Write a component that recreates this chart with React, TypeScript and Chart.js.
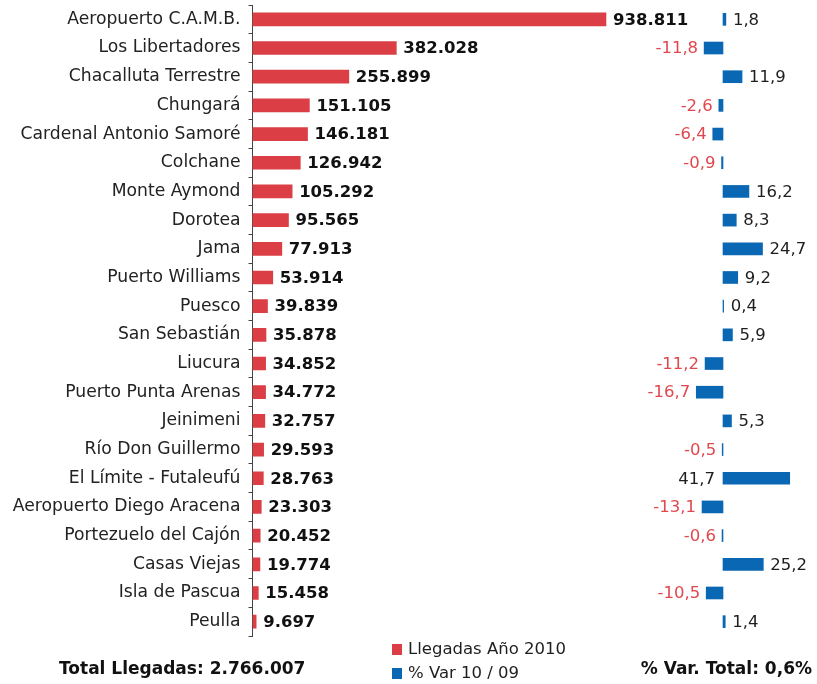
import React, { useEffect, useRef } from "react";
import { Chart, registerables } from "chart.js";

Chart.register(...registerables);

const categories = [
  "Aeropuerto C.A.M.B.",
  "Los Libertadores",
  "Chacalluta Terrestre",
  "Chungará",
  "Cardenal Antonio Samoré",
  "Colchane",
  "Monte Aymond",
  "Dorotea",
  "Jama",
  "Puerto Williams",
  "Puesco",
  "San Sebastián",
  "Liucura",
  "Puerto Punta Arenas",
  "Jeinimeni",
  "Río Don Guillermo",
  "El Límite - Futaleufú",
  "Aeropuerto Diego Aracena",
  "Portezuelo del Cajón",
  "Casas Viejas",
  "Isla de Pascua",
  "Peulla",
];

const arrivals2010 = [
  938811, 382028, 255899, 151105, 146181, 126942, 105292, 95565, 77913, 53914,
  39839, 35878, 34852, 34772, 32757, 29593, 28763, 23303, 20452, 19774, 15458,
  9697,
];

const varPct = [
  1.8, -11.8, 11.9, -2.6, -6.4, -0.9, 16.2, 8.3, 24.7, 9.2, 0.4, 5.9, -11.2,
  -16.7, 5.3, -0.5, 41.7, -13.1, -0.6, 25.2, -10.5, 1.4,
];

const seriesNames = ["Llegadas Año 2010", "% Var 10 / 09"];
const totalArrivals = 2766007;
const totalVar = 0.6;

const W = 817;
const H = 684;
const FONT = "'DejaVu Sans', Verdana, sans-serif";
const RED = "#DB3F45";
const BLUE = "#0A67B3";
const RED_TEXT = "#E0484D";
const TEXT = "#1e1e1e";

const fmtInt = (v: number) =>
  String(Math.round(v)).replace(/\B(?=(\d{3})+(?!\d))/g, ".");
const fmtPct = (v: number) => v.toFixed(1).replace(".", ",");

const leftLabels = {
  id: "leftLabels",
  afterDatasetsDraw(chart: any) {
    const ctx = chart.ctx;
    const meta = chart.getDatasetMeta(0);
    ctx.save();
    ctx.font = `bold 16.5px ${FONT}`;
    ctx.fillStyle = "#111";
    ctx.textAlign = "left";
    ctx.textBaseline = "middle";
    meta.data.forEach((el: any, i: number) => {
      ctx.fillText(fmtInt(arrivals2010[i]), el.x + 7, el.y + 1);
    });
    ctx.restore();
  },
};

const footer = {
  id: "footer",
  afterDraw(chart: any) {
    const ctx = chart.ctx;
    ctx.save();
    ctx.textBaseline = "middle";
    // legend
    ctx.fillStyle = RED;
    ctx.fillRect(392, 644, 10, 11);
    ctx.fillStyle = BLUE;
    ctx.fillRect(392, 668, 10, 11);
    ctx.fillStyle = TEXT;
    ctx.font = `16.5px ${FONT}`;
    ctx.textAlign = "left";
    ctx.fillText(seriesNames[0], 408, 650);
    ctx.fillText(seriesNames[1], 408, 674);
    // totals
    ctx.fillStyle = "#111";
    ctx.font = `bold 17px ${FONT}`;
    ctx.fillText(`Total Llegadas: ${fmtInt(totalArrivals)}`, 59, 670);
    ctx.textAlign = "right";
    ctx.fillText(`% Var. Total: ${fmtPct(totalVar)}%`, 812, 670);
    ctx.restore();
  },
};

const rightLabels = {
  id: "rightLabels",
  afterDatasetsDraw(chart: any) {
    const ctx = chart.ctx;
    const meta = chart.getDatasetMeta(0);
    const right = chart.width;
    ctx.save();
    ctx.font = `16.5px ${FONT}`;
    ctx.textBaseline = "middle";
    meta.data.forEach((el: any, i: number) => {
      const v = varPct[i];
      const txt = fmtPct(v);
      const w = ctx.measureText(txt).width;
      if (v < 0) {
        ctx.fillStyle = RED_TEXT;
        ctx.textAlign = "right";
        ctx.fillText(txt, Math.min(el.x, el.base) - 6, el.y + 1);
      } else {
        ctx.fillStyle = TEXT;
        if (el.x + 7 + w > right - 2) {
          ctx.textAlign = "right";
          ctx.fillText(txt, el.base - 8, el.y + 1);
        } else {
          ctx.textAlign = "left";
          ctx.fillText(txt, el.x + 7, el.y + 1);
        }
      }
    });
    ctx.restore();
  },
};

export default function App() {
  const leftRef = useRef<HTMLCanvasElement>(null);
  const rightRef = useRef<HTMLCanvasElement>(null);

  useEffect(() => {
    const left = new Chart(leftRef.current as HTMLCanvasElement, {
      type: "bar",
      data: {
        labels: categories,
        datasets: [
          {
            label: seriesNames[0],
            data: arrivals2010,
            backgroundColor: RED,
            barThickness: 13,
          },
        ],
      },
      options: {
        indexAxis: "y",
        responsive: false,
        animation: false,
        devicePixelRatio: 1,
        layout: { padding: { top: 5, bottom: 48, left: 0, right: 188 } },
        plugins: { legend: { display: false }, tooltip: { enabled: false } },
        scales: {
          x: { display: false, min: 0, max: 1000000 },
          y: {
            afterFit: (s: any) => {
              s.width = 252.5;
              s.paddingTop = 0;
              s.paddingBottom = 0;
            },
            grid: {
              offset: true,
              drawOnChartArea: false,
              tickLength: 4,
              color: "#444",
            },
            border: { color: "#444" },
            ticks: {
              autoSkip: false,
              font: { family: FONT, size: 17.2 },
              color: "#222",
              padding: 8,
            },
          },
        },
      } as any,
      plugins: [leftLabels, footer],
    });

    const right = new Chart(rightRef.current as HTMLCanvasElement, {
      type: "bar",
      data: {
        labels: categories,
        datasets: [
          {
            label: seriesNames[1],
            data: varPct,
            backgroundColor: BLUE,
            barThickness: 12,
          },
        ],
      },
      options: {
        indexAxis: "y",
        responsive: false,
        animation: false,
        devicePixelRatio: 1,
        layout: { padding: { top: 5, bottom: 48, left: 691, right: 14 } },
        plugins: { legend: { display: false }, tooltip: { enabled: false } },
        scales: {
          x: { display: false, min: -20, max: 50 },
          y: { display: false },
        },
      } as any,
      plugins: [rightLabels],
    });

    return () => {
      left.destroy();
      right.destroy();
    };
  }, []);

  const canvasStyle: React.CSSProperties = {
    position: "absolute",
    left: 0,
    top: 0,
    width: W,
    height: H,
  };

  return (
    <div
      style={{
        position: "fixed",
        left: 0,
        top: 0,
        width: W,
        height: H,
        background: "#fff",
        overflow: "hidden",
      }}
    >
      <canvas ref={leftRef} width={W} height={H} style={canvasStyle} />
      <canvas ref={rightRef} width={W} height={H} style={canvasStyle} />
    </div>
  );
}
